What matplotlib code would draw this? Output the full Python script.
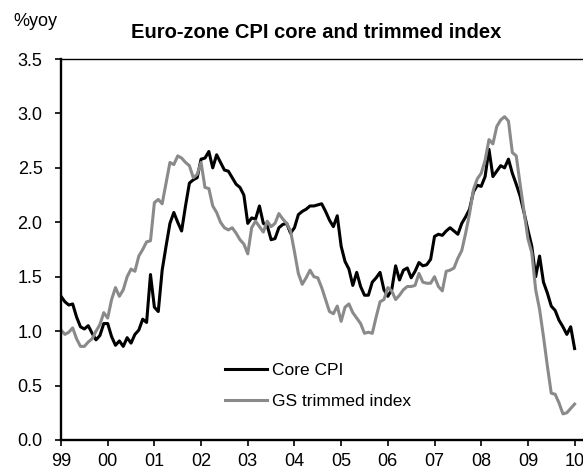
import matplotlib
matplotlib.use("Agg")
import matplotlib.pyplot as plt
import numpy as np

plt.rcParams['font.family'] = ['Liberation Sans', 'DejaVu Sans']

# monthly, Jan 1999 .. Jan 2010 (%yoy)
core_cpi = [
    1.32, 1.27, 1.24, 1.25, 1.13, 1.04, 1.02, 1.05, 0.98, 0.92, 0.96, 1.07,
    1.07, 0.95, 0.87, 0.91, 0.86, 0.94, 0.89, 0.97, 1.01, 1.11, 1.08, 1.52,
    1.22, 1.18, 1.56, 1.78, 1.99, 2.09, 2.00, 1.92, 2.15, 2.36, 2.39, 2.41,
    2.58, 2.59, 2.65, 2.50, 2.62, 2.55, 2.48, 2.47, 2.41, 2.35, 2.32, 2.25,
    1.99, 2.04, 2.03, 2.15, 1.99, 1.97, 1.84, 1.85, 1.95, 1.98, 1.99, 1.90,
    1.95, 2.07, 2.10, 2.12, 2.15, 2.15, 2.16, 2.17, 2.10, 2.02, 1.96, 2.06,
    1.78, 1.64, 1.57, 1.42, 1.54, 1.41, 1.33, 1.33, 1.45, 1.49, 1.54, 1.38,
    1.32, 1.38, 1.60, 1.47, 1.56, 1.58, 1.49, 1.55, 1.63, 1.60, 1.61, 1.66,
    1.87, 1.89, 1.88, 1.92, 1.95, 1.92, 1.89, 1.99, 2.05, 2.12, 2.28, 2.34,
    2.33, 2.42, 2.67, 2.42, 2.47, 2.52, 2.50, 2.58, 2.45, 2.35, 2.24, 2.09,
    1.93, 1.78, 1.50, 1.69, 1.45, 1.35, 1.23, 1.19, 1.10, 1.04, 0.97, 1.04,
    0.84,
]
gs_trimmed = [
    1.01, 0.97, 0.99, 1.03, 0.93, 0.86, 0.86, 0.90, 0.93, 1.00, 1.06, 1.17,
    1.12, 1.29, 1.40, 1.32, 1.38, 1.50, 1.57, 1.55, 1.69, 1.75, 1.82, 1.83,
    2.18, 2.21, 2.17, 2.36, 2.55, 2.53, 2.61, 2.59, 2.55, 2.52, 2.41, 2.44,
    2.55, 2.32, 2.31, 2.15, 2.09, 2.00, 1.95, 1.93, 1.95, 1.90, 1.84, 1.80,
    1.71, 1.95, 2.01, 1.96, 1.91, 2.01, 1.96, 1.99, 2.08, 2.03, 1.99, 1.92,
    1.73, 1.53, 1.43, 1.49, 1.56, 1.50, 1.49, 1.40, 1.29, 1.18, 1.16, 1.23,
    1.09, 1.22, 1.25, 1.17, 1.12, 1.07, 0.98, 0.99, 0.98, 1.13, 1.27, 1.29,
    1.40, 1.37, 1.29, 1.33, 1.38, 1.41, 1.41, 1.42, 1.53, 1.45, 1.44, 1.44,
    1.50, 1.41, 1.37, 1.55, 1.56, 1.58, 1.67, 1.74, 1.90, 2.08, 2.30, 2.40,
    2.45, 2.57, 2.76, 2.72, 2.88, 2.94, 2.97, 2.93, 2.64, 2.61, 2.35, 2.10,
    1.85, 1.72, 1.38, 1.20, 0.95, 0.68, 0.43, 0.42, 0.34, 0.24, 0.25, 0.29,
    0.33,
]
years = list(range(1999, 2011))
year_labels = ["99", "00", "01", "02", "03", "04", "05", "06", "07", "08", "09", "10"]

t = 1999 + np.arange(len(core_cpi)) / 12.0

fig = plt.figure(figsize=(5.83, 4.74), dpi=100)
ax = fig.add_axes([61 / 583, 1 - 440 / 474, 1 - 61 / 583, (440 - 59) / 474])

ax.plot(t, core_cpi, color="black", lw=2.2, label="Core CPI")
ax.plot(t, gs_trimmed, color="#8a8a8a", lw=2.2, label="GS trimmed index")

ax.set_xlim(1999, 2010.18)
ax.set_ylim(0, 3.5)
ax.set_xticks(years)
ax.set_xticklabels(year_labels)
ax.set_yticks(np.arange(0, 3.51, 0.5))
ax.set_yticklabels(["%.1f" % v for v in np.arange(0, 3.51, 0.5)])
ax.tick_params(direction="out", length=4.3, width=1.2, labelsize=13)
ax.tick_params(axis="y", pad=9)
ax.tick_params(axis="x", pad=5)

ax.spines["left"].set_linewidth(1.7)
ax.spines["bottom"].set_linewidth(1.7)
ax.spines["top"].set_linewidth(1.0)
ax.spines["right"].set_visible(False)

fig.text(316 / 583, 1 - 33 / 474, "Euro-zone CPI core and trimmed index",
         ha="center", va="center", fontsize=14.5, fontweight="bold")
fig.text(13 / 583, 1 - 22 / 474, "%yoy", ha="left", va="center", fontsize=13)

ax.legend(loc="center left", bbox_to_anchor=(225 / 583, 1 - 386 / 474),
          bbox_transform=fig.transFigure, frameon=False, fontsize=12.5,
          handlelength=2.4, handletextpad=0.3, labelspacing=0.9,
          borderpad=0, borderaxespad=0)

fig.savefig("out.png", dpi=100)
